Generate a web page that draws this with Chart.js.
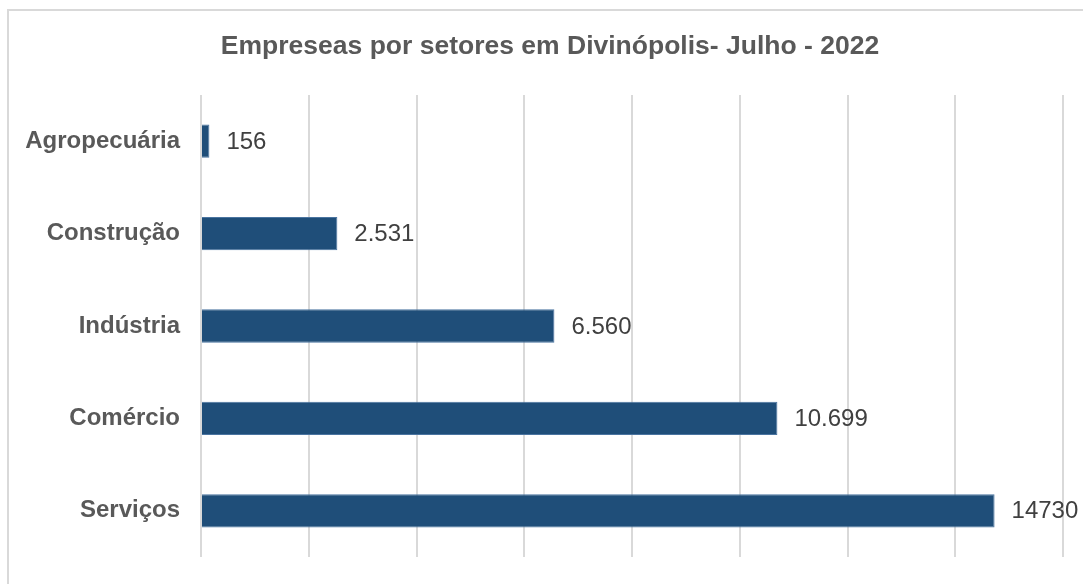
<!DOCTYPE html>
<html>
<head>
<meta charset="utf-8">
<script src="https://cdn.jsdelivr.net/npm/chart.js@4"></script>
<style>
  html, body { margin: 0; padding: 0; background: #fff; }
  #frame {
    position: absolute; left: 7px; top: 9px; width: 1090px; height: 600px;
    border: 2px solid #d9d9d9; box-sizing: border-box;
  }
  #wrap { position: absolute; left: 0; top: 0; width: 1083px; height: 584px; }
</style>
</head>
<body>
<div id="frame"></div>
<div id="wrap"><canvas id="bar-chart" width="1083" height="584"></canvas></div>
<script>
const titleText = 'Empreseas por setores em Divinópolis- Julho - 2022';
const sectors = ['Agropecuária', 'Construção', 'Indústria', 'Comércio', 'Serviços'];
const companies = [156, 2531, 6560, 10699, 14730];
const valueLabels = ['156', '2.531', '6.560', '10.699', '14730']; // as printed on the chart

// draws the value next to each bar and the chart title
const barLabels = {
    id: 'barLabels',
    afterDatasetsDraw(chart) {
        const ctx = chart.ctx;
        const meta = chart.getDatasetMeta(0);
        ctx.save();
        ctx.font = '24px "Liberation Sans", Arial, sans-serif';
        ctx.fillStyle = '#404040';
        ctx.textAlign = 'left';
        ctx.textBaseline = 'middle';
        meta.data.forEach((bar, i) => {
            ctx.fillText(valueLabels[i], bar.x + 17, bar.y + 1);
        });
        ctx.font = 'bold 26.5px "Liberation Sans", Arial, sans-serif';
        ctx.fillStyle = '#595959';
        ctx.textAlign = 'center';
        ctx.fillText(titleText, 550, 47);
        ctx.restore();
    },
};

const config = {
    type: 'bar',
    data: {
        labels: sectors,
        datasets: [{
            data: companies,
            backgroundColor: '#1f4e79',
            borderColor: '#4a74a0',
            borderWidth: 1,
            barPercentage: 0.36,
            categoryPercentage: 1,
        }],
    },
    options: {
        indexAxis: 'y',
        responsive: false,
        animation: false,
        layout: { padding: { top: 95, right: 20, bottom: 0, left: 0 } },
        plugins: {
            legend: { display: false },
            tooltip: { enabled: false },
            title: { display: false },
        },
        scales: {
            x: {
                min: 0,
                max: 16000,
                ticks: { display: false, stepSize: 2000 },
                grid: { color: '#d9d9d9', lineWidth: 2, drawTicks: false },
                border: { display: false },
                afterFit(scale) { scale.height = 27; },
            },
            y: {
                ticks: {
                    color: '#595959',
                    padding: 21,
                    font: { family: '"Liberation Sans", Arial, sans-serif', size: 24, weight: 'bold' },
                },
                grid: { display: false, drawTicks: false },
                border: { display: false },
                afterFit(scale) {
                    scale.width = 201;
                    scale.paddingTop = 0;
                    scale.paddingBottom = 0;
                },
            },
        },
    },
    plugins: [barLabels],
};

const barChart = new Chart(document.getElementById('bar-chart'), config);
</script>
</body>
</html>
